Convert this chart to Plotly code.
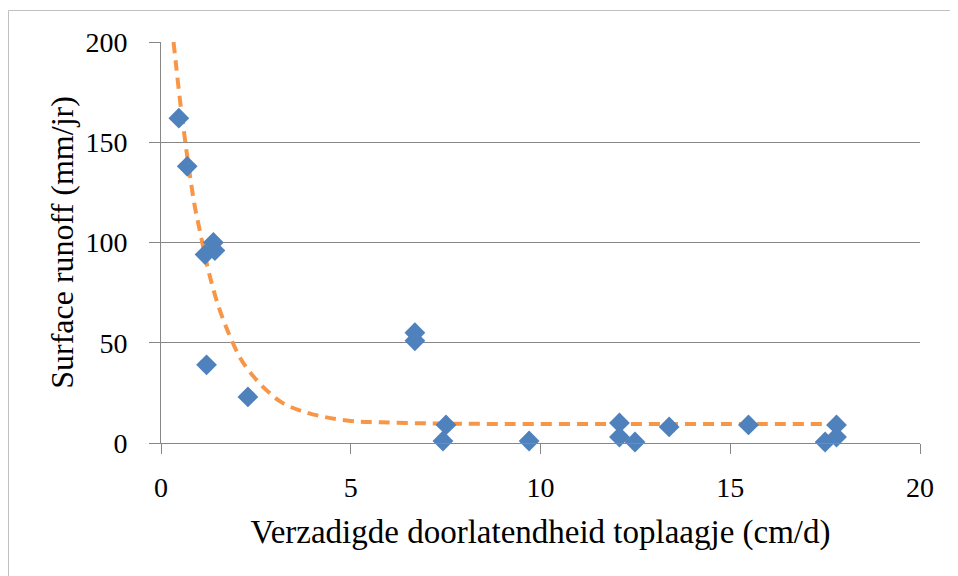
import plotly.graph_objects as go

# Measured points
ksat_cm_d = [0.47, 0.69, 1.16, 1.38, 1.42, 1.20, 2.29, 6.69, 6.69, 7.43, 7.51,
             9.70, 12.08, 12.08, 12.49, 13.39, 15.48, 17.50, 17.80, 17.80]
runoff_mm_jr = [162, 138, 94, 100, 96, 39, 23, 55, 51, 1, 9,
                1, 10, 3, 0.5, 8, 9, 0.5, 9, 3]

# Trend line
trend_x = [0.33, 0.4, 0.5, 0.6, 0.75, 0.9, 1.0, 1.25, 1.5, 1.8, 2.1, 2.4,
           2.8, 3.2, 3.7, 4.3, 5.0, 5.8, 7.0, 9.0, 12.0, 15.0, 17.8]
trend_y = [200, 188, 171, 156, 135, 117, 108, 86, 69, 54, 42, 34,
           26, 20, 16, 13, 11, 10.3, 9.8, 9.5, 9.5, 9.5, 9.5]

x_ticks = [0, 5, 10, 15, 20]
y_ticks = [0, 50, 100, 150, 200]

x_title = "Verzadigde doorlatendheid toplaagje (cm/d)"
y_title = "Surface runoff (mm/jr)"

FONT = "Liberation Serif"
GRID = "#878787"

fig = go.Figure()
fig.add_trace(go.Scatter(
    x=trend_x, y=trend_y, mode="lines", line_shape="spline",
    line=dict(color="#F79646", width=4, dash="11px,7px"),
    showlegend=False, hoverinfo="skip"))
fig.add_trace(go.Scatter(
    x=ksat_cm_d, y=runoff_mm_jr, mode="markers",
    marker=dict(symbol="diamond", size=16, color="#4F81BD", line=dict(width=0)),
    cliponaxis=False, showlegend=False))

# page body has an 8px margin, so the figure is placed at (8, 8)
W, H = 950, 568
L, R, T, B = 153, 38, 34, 133
pw, ph = W - L - R, H - T - B

fig.update_layout(
    width=W, height=H,
    margin=dict(l=L, r=R, t=T, b=B, autoexpand=False),
    paper_bgcolor="white", plot_bgcolor="white",
    font=dict(family=FONT, size=28, color="black"),
    xaxis=dict(range=[0, 20], tickvals=x_ticks, ticktext=[str(v) for v in x_ticks],
               showgrid=False, zeroline=False, showline=True, linecolor=GRID,
               linewidth=1, ticks="outside", ticklen=10, tickcolor=GRID,
               ticklabelstandoff=9, tickfont=dict(size=28, family=FONT),
               title=dict(text=x_title, font=dict(size=33, family=FONT), standoff=18),
               fixedrange=True),
    yaxis=dict(range=[0, 200], tickvals=y_ticks, ticktext=[str(v) for v in y_ticks],
               showgrid=True, gridcolor=GRID, gridwidth=1, zeroline=False,
               showline=True, linecolor=GRID, linewidth=1, ticks="outside",
               ticklen=11, tickcolor=GRID, ticklabelstandoff=16,
               tickfont=dict(size=28, family=FONT),
               title=dict(text=y_title, font=dict(size=32, family=FONT), standoff=2),
               fixedrange=True),
    shapes=[dict(type="rect", xref="paper", yref="paper",
                 x0=(0.5 - L) / pw, x1=(949.5 - L) / pw,
                 y0=(H - B - 600) / ph, y1=(H - B - 2.5) / ph,
                 line=dict(color="#C0C0C0", width=1), fillcolor="rgba(0,0,0,0)",
                 layer="below")],
)

fig.write_html("out.html")
